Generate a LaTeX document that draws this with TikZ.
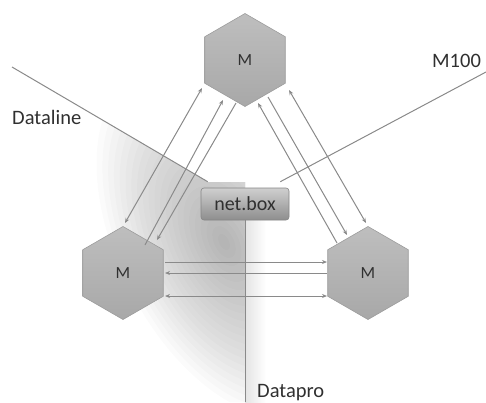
\documentclass[tikz,border=0pt]{standalone}
\usepackage{fontspec}
\setmainfont{Carlito}
\usetikzlibrary{shapes.geometric,arrows.meta,calc}
\definecolor{ln}{HTML}{8A8A8A}
\definecolor{txt}{HTML}{303030}
\definecolor{hexT}{HTML}{BEBEBE}
\definecolor{hexB}{HTML}{A8A8A8}
\definecolor{hexD}{HTML}{9C9C9C}
\definecolor{boxT}{HTML}{CFCFCF}
\definecolor{boxB}{HTML}{8E8E8E}
\definecolor{boxD}{HTML}{858585}
\definecolor{shdR}{HTML}{E4E4E4}
\begin{document}
\begin{tikzpicture}[x=1pt,y=-1pt,
  hexa/.style={regular polygon, regular polygon sides=6, shape border rotate=30,
    minimum size=93pt, inner sep=0pt, top color=hexT, bottom color=hexB,
    draw=hexD, line width=0.6pt, font=\fontsize{17}{20}\selectfont, text=txt},
  boxn/.style={rectangle, rounded corners=3pt, minimum width=88pt, minimum height=32pt,
    inner sep=0pt, top color=boxT, bottom color=boxB, draw=boxD, line width=0.6pt,
    font=\fontsize{20}{24}\selectfont, text=txt},
  lab/.style={font=\fontsize{20.5}{24}\selectfont, text=txt, inner sep=0pt},
  wire/.style={draw=ln, line width=1pt},
  arr/.style={draw=ln, line width=1pt, -{Stealth[length=5pt,width=4pt]}},
  rarr/.style={draw=ln, line width=1pt, {Stealth[length=5pt,width=4pt]}-},
  darr/.style={draw=ln, line width=1pt, {Stealth[length=5pt,width=4pt]}-{Stealth[length=5pt,width=4pt]}},
  haze/.style={fill=black, fill opacity=0.014, draw=none}
]
\useasboundingbox (0,0) rectangle (486,402);
% background shadow
\begin{scope}
  \clip (0,67) -- (12,67) -- (208,182) -- (245,182) -- (245,402) -- (0,402) -- cycle;
  \begin{scope}[shift={(224,242)}, rotate=-63]
    \foreach \i in {1,...,22} { \fill[haze] (0,0) ellipse [x radius=\i*8.6, y radius=\i*4.8]; }
  \end{scope}
\end{scope}
\shade[left color=shdR, right color=white] (245,220) rectangle (266,402);
% nodes
\node[hexa] (T) at (245,60) {M};
\node[hexa] (L) at (123,273) {M};
\node[hexa] (R) at (368,273) {M};
\node[boxn] (NB) at (245,204) {net.box};
\node[lab, anchor=base west] (dl) at (12,124) {Dataline};
\node[lab, anchor=base west] (m1) at (432,67) {M100};
\node[lab, anchor=base west] (dp) at (257,397) {Datapro};
\coordinate (dlE) at (12,67);
\coordinate (m1E) at (486,72);
\coordinate (dpE) at (245,402);
% feed lines
\draw[wire] (dlE) -- ($(NB.north west)+(7,-6)$);
\draw[wire] (m1E) -- ($(NB.north east)+(-9,-6)$);
\draw[wire] (NB.south) -- (dpE);
% top-left links
\draw[darr] ($(T)+(-43,28)$) -- ($(L)+(2,-50)$);
\draw[rarr] ($(T)+(-22,40)$) -- ($(L)+(22,-28)$);
\draw[arr] ($(T)+(-9,43)$) -- ($(L)+(34,-33)$);
% top-right links
\draw[darr] ($(T)+(44,30)$) -- ($(R)+(-2,-50)$);
\draw[arr] ($(T)+(23,37)$) -- ($(R)+(-21,-38)$);
\draw[rarr] ($(T)+(13,43)$) -- ($(R)+(-31,-30)$);
% horizontal links
\draw[arr] ($(L)+(42,-11)$) -- ($(R)+(-41,-11)$);
\draw[rarr] ($(L)+(42,0)$) -- ($(R)+(-41,0)$);
\draw[darr] ($(L)+(42,23)$) -- ($(R)+(-41,23)$);
\end{tikzpicture}
\end{document}
